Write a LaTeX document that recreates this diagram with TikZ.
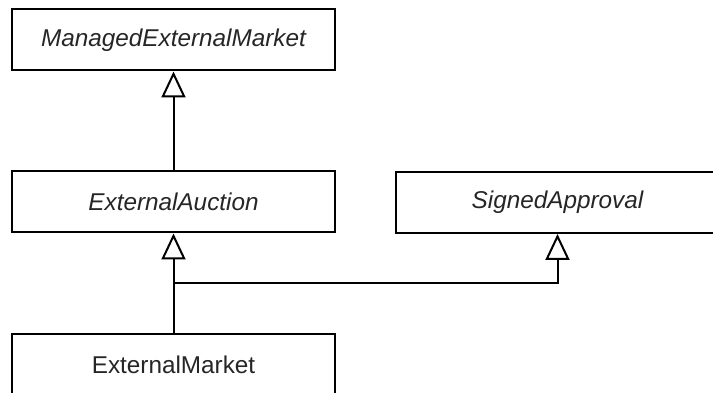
\documentclass[tikz,border=0pt]{standalone}
\usepackage{fontspec}
\setmainfont{Liberation Sans}
\usetikzlibrary{arrows.meta,calc}

\begin{document}
\begin{tikzpicture}[x=1pt,y=1pt,
  umlclass/.style={draw,line width=2pt,fill=white,minimum width=323pt,minimum height=61pt,
    inner sep=0pt,text=black!85,font=\fontsize{24.3}{28}\selectfont},
  abstractclass/.style={umlclass,font=\fontsize{24.3}{28}\selectfont\itshape},
  inherit/.style={line width=2pt,-{Triangle[open,length=26pt,width=24pt,fill=white]}}]

\useasboundingbox (0,0) rectangle (713,393);

% class boxes
\node[abstractclass] (managed) at (173.5,353) {ManagedExternalMarket};
\node[abstractclass] (auction) at (173.5,191) {ExternalAuction};
\node[abstractclass] (approval) at (557.5,190.5) {SignedApproval};
\node[umlclass] (market) at (173.5,28.5) {ExternalMarket};

% generalisations
\draw[inherit] (auction.north) -- (managed.south);
\draw[inherit] (market.north) -- (auction.south);
\coordinate (split) at ($(market.north)!.5!(auction.south)$);
\draw[inherit] (split) -| (approval.south);

\end{tikzpicture}
\end{document}
